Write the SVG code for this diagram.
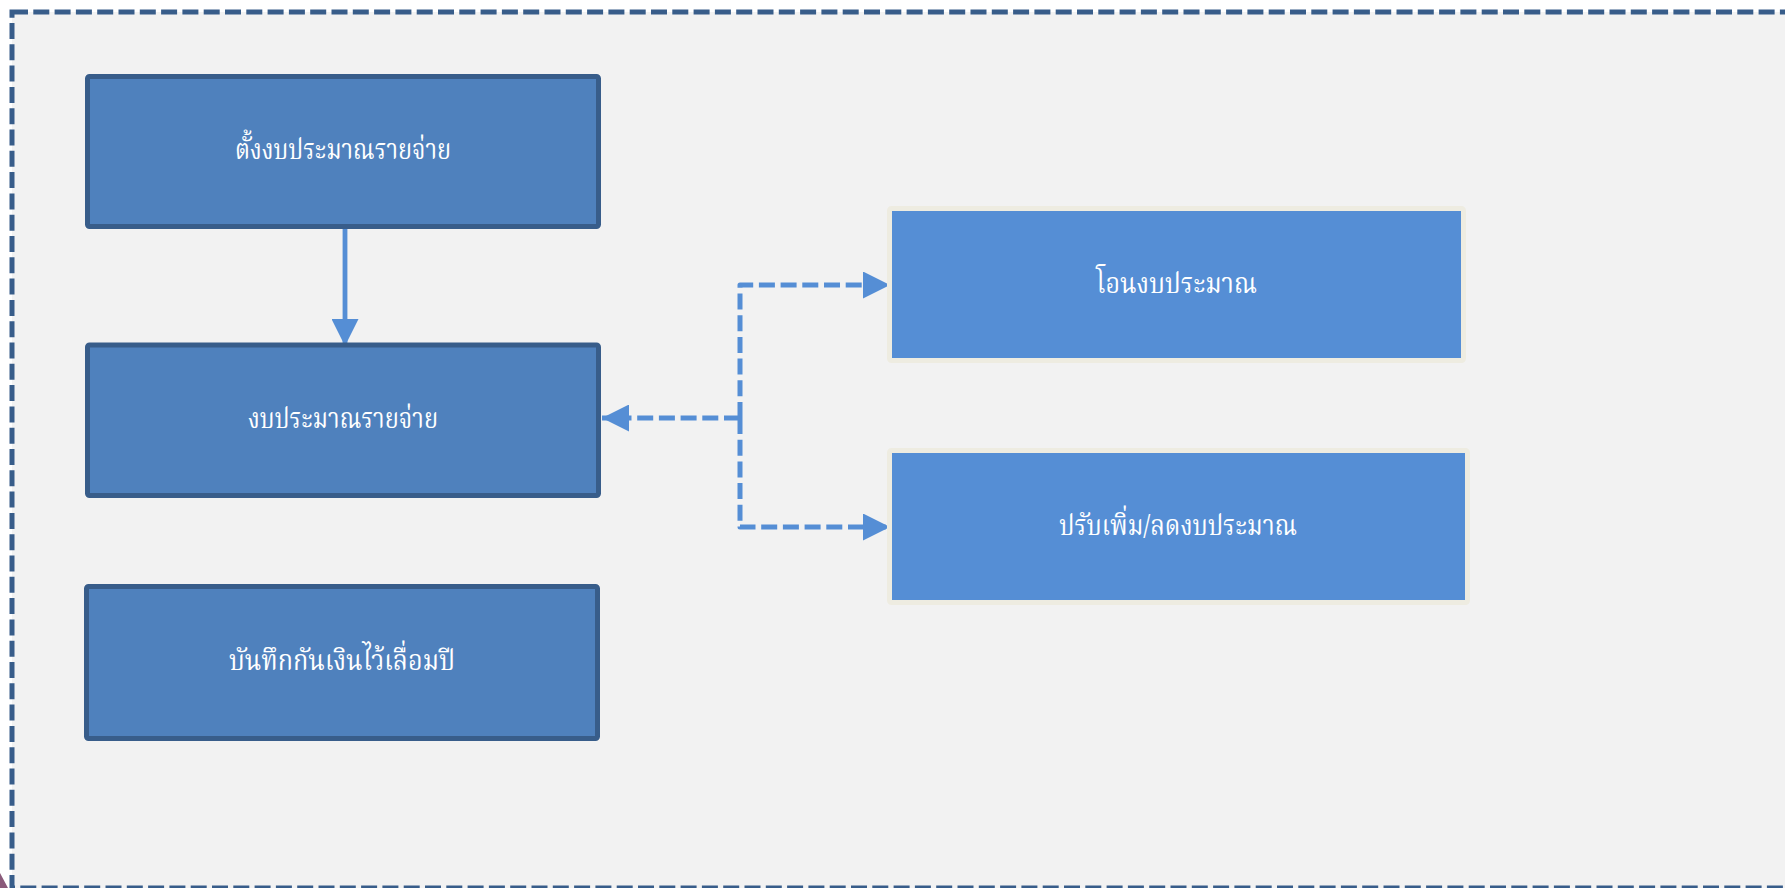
<svg xmlns="http://www.w3.org/2000/svg" width="1785" height="888" viewBox="0 0 1785 888">
<defs>
<style>
.bg{fill:#ffffff}
.cont{fill:#f2f2f2;stroke:#385d8a;stroke-width:5;stroke-dasharray:16 5.3}
.nodeA{fill:#4f81bd;stroke:#385d8a;stroke-width:5}
.nodeB{fill:#558ed5;stroke:#eeece1;stroke-width:5}
.lbl{fill:#ffffff;font-family:"Noto Serif Thai","Noto Sans Thai","Liberation Serif","DejaVu Serif",serif;font-size:28px;text-anchor:middle;dominant-baseline:central}
.solid{fill:none;stroke:#558ed5;stroke-width:4.8}
.dash{fill:none;stroke:#558ed5;stroke-width:5;stroke-dasharray:16 5.7;stroke-linejoin:round}
</style>
<marker id="ah" viewBox="0 0 27 27" refX="27" refY="13.5" markerWidth="27" markerHeight="27" markerUnits="userSpaceOnUse" orient="auto">
<path d="M0,0 L27,13.5 L0,27 Z" fill="#558ed5"/>
</marker>
</defs>
<rect class="bg" x="0" y="0" width="1785" height="888"/>
<path d="M0,873 L8,888 L0,888 Z" fill="#8a5a7a"/>
<rect class="cont" x="12" y="12" width="1800" height="876"/>
<g id="connectors">
<path class="solid" d="M345,229 L345,346" marker-end="url(#ah)"/>
<path class="dash" d="M740,418 L602,418" marker-end="url(#ah)"/>
<path class="dash" d="M740,418 L740,285 L890,285" marker-end="url(#ah)"/>
<path class="dash" d="M740,418 L740,527 L890,527" marker-end="url(#ah)"/>
</g>
<g id="node-set-budget">
<rect class="nodeA" x="87.5" y="76.5" width="511" height="150" rx="2"/>
<text class="lbl" x="343" y="151" textLength="216" lengthAdjust="spacingAndGlyphs">ตั้งงบประมาณรายจ่าย</text>
</g>
<g id="node-budget">
<rect class="nodeA" x="87.5" y="345" width="511" height="150.5" rx="2"/>
<text class="lbl" x="343" y="420" textLength="190" lengthAdjust="spacingAndGlyphs">งบประมาณรายจ่าย</text>
</g>
<g id="node-carry-over">
<rect class="nodeA" x="86.5" y="586.5" width="511" height="152" rx="2"/>
<text class="lbl" x="342" y="662" textLength="226" lengthAdjust="spacingAndGlyphs">บันทึกกันเงินไว้เลื่อมปี</text>
</g>
<g id="node-transfer">
<rect class="nodeB" x="889.5" y="208.5" width="574" height="152" rx="2"/>
<text class="lbl" x="1176.5" y="285" textLength="161" lengthAdjust="spacingAndGlyphs">โอนงบประมาณ</text>
</g>
<g id="node-adjust">
<rect class="nodeB" x="889.5" y="450.5" width="578" height="152" rx="2"/>
<text class="lbl" x="1178" y="527" textLength="238" lengthAdjust="spacingAndGlyphs">ปรับเพิ่ม/ลดงบประมาณ</text>
</g>
</svg>
